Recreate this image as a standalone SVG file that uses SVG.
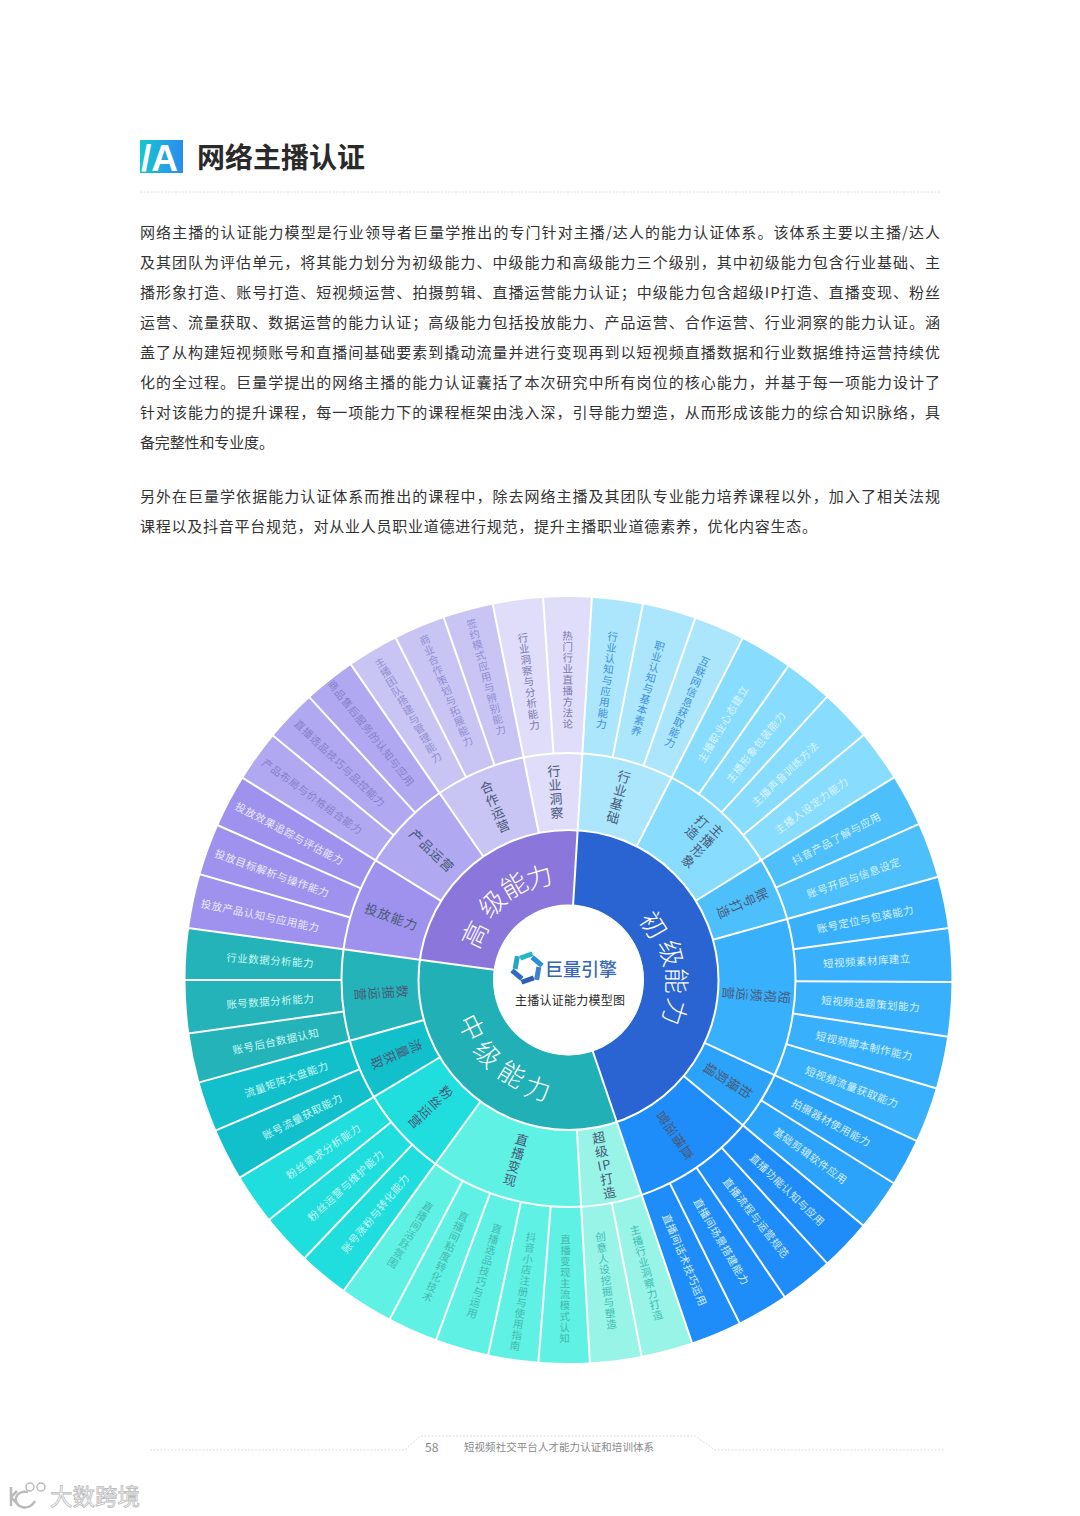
<svg xmlns="http://www.w3.org/2000/svg" width="1080" height="1516" viewBox="0 0 1080 1516">
<style>
text{font-family:"Noto Sans CJK SC","Liberation Sans",sans-serif}
.c{text-anchor:middle;dominant-baseline:central}
.v{writing-mode:vertical-rl;text-orientation:upright}
.p{font-size:15px;fill:#333;dominant-baseline:central;transform:translateY(-1.5px)}
.o,.m,.i{fill:none;transform:rotate(-90deg)}
.o{stroke-width:156}
.m{stroke-width:77}
.i{stroke-width:75}
.l{font-size:10.5px;letter-spacing:.5px}
.t{font-size:13px;letter-spacing:1px;fill:#4a5a78}
.g{font-size:26px;fill:#fff;font-weight:300}
.w{stroke:#fff;stroke-width:2;fill:none}
.b1{fill:#3f8fd8}.b2{fill:#dcf5ff}.b3{fill:#d8f0ff}.b4{fill:#d4ecff}
.b5{fill:#3fbdb4}.b6{fill:#45b9b0}.b7{fill:#c8f7f3}.b8{fill:#ece8ff}.b9{fill:#8880cc}.b10{fill:#9390d2}.b11{fill:#7c7ab0}
.f{fill:none;stroke:#dcdcdc;stroke-width:1;stroke-dasharray:2 1.5}
</style>
<defs>
<linearGradient id="lg" x1="0" y1="0" x2="1" y2="0"><stop offset="0" stop-color="#17c6cf"/><stop offset="1" stop-color="#2b8cf0"/></linearGradient>
<line id="s1" class="w" x1="0" y1="-75" x2="0" y2="-150"/>
<line id="s2" class="w" x1="0" y1="-150" x2="0" y2="-227"/>
<line id="s3" class="w" x1="0" y1="-227" x2="0" y2="-384"/>
</defs>
<rect width="1080" height="1516" fill="#fff"/>

<g id="heading">
<rect x="140" y="140" width="43" height="33" fill="url(#lg)"/>
<text x="141" y="170.500" font-size="37" font-weight="700" fill="#fff" style="font-family:'Liberation Sans',sans-serif">/A</text>
<text x="197" y="156" font-size="28" font-weight="700" fill="#2a2a2a" style="dominant-baseline:central">网络主播认证</text>
<line class="f" x1="140" y1="192" x2="940" y2="192"/>
</g>

<g id="body">
<text class="p" x="140" y="233" textLength="800">网络主播的认证能力模型是行业领导者巨量学推出的专门针对主播/达人的能力认证体系。该体系主要以主播/达人</text>
<text class="p" x="140" y="263" textLength="800">及其团队为评估单元，将其能力划分为初级能力、中级能力和高级能力三个级别，其中初级能力包含行业基础、主</text>
<text class="p" x="140" y="293" textLength="800">播形象打造、账号打造、短视频运营、拍摄剪辑、直播运营能力认证；中级能力包含超级IP打造、直播变现、粉丝</text>
<text class="p" x="140" y="323" textLength="800">运营、流量获取、数据运营的能力认证；高级能力包括投放能力、产品运营、合作运营、行业洞察的能力认证。涵</text>
<text class="p" x="140" y="353" textLength="800">盖了从构建短视频账号和直播间基础要素到撬动流量并进行变现再到以短视频直播数据和行业数据维持运营持续优</text>
<text class="p" x="140" y="383" textLength="800">化的全过程。巨量学提出的网络主播的能力认证囊括了本次研究中所有岗位的核心能力，并基于每一项能力设计了</text>
<text class="p" x="140" y="413" textLength="800">针对该能力的提升课程，每一项能力下的课程框架由浅入深，引导能力塑造，从而形成该能力的综合知识脉络，具</text>
<text class="p" x="140" y="443" textLength="134">备完整性和专业度。</text>
<text class="p" x="140" y="497" textLength="800">另外在巨量学依据能力认证体系而推出的课程中，除去网络主播及其团队专业能力培养课程以外，加入了相关法规</text>
<text class="p" x="140" y="527" textLength="677">课程以及抖音平台规范，对从业人员职业道德进行规范，提升主播职业道德素养，优化内容生态。</text>
</g>

<g id="leaves">
<g id="k0" transform="translate(568.5 980) rotate(3.5)"><circle class="o" r="305" pathLength="360" stroke="#abe6fc" stroke-dasharray="7.800 360"/><text class="c v l b1" transform="rotate(3.85) translate(0 -302)">行业认知与应用能力</text></g>
<g id="k1" transform="translate(568.5 980) rotate(11.2)"><circle class="o" r="305" pathLength="360" stroke="#abe6fc" stroke-dasharray="8.200 360"/><text class="c v l b1" transform="rotate(4.05) translate(0 -302)">职业认知与基本素养</text></g>
<g id="k2" transform="translate(568.5 980) rotate(19.3)"><circle class="o" r="305" pathLength="360" stroke="#abe6fc" stroke-dasharray="7.800 360"/><text class="c v l b1" transform="rotate(3.85) translate(0 -302)">互联网信息获取能力</text></g>
<g id="k3" transform="translate(568.5 980) rotate(27)"><circle class="o" r="305" pathLength="360" stroke="#88dcfd" stroke-dasharray="8.100 360"/><text class="c l b2" transform="rotate(4) translate(0 -299) rotate(-90)">主播职业心态建立</text></g>
<g id="k4" transform="translate(568.5 980) rotate(35)"><circle class="o" r="305" pathLength="360" stroke="#88dcfd" stroke-dasharray="7.500 360"/><text class="c l b2" transform="rotate(3.7) translate(0 -299) rotate(-90)">主播形象包装能力</text></g>
<g id="k5" transform="translate(568.5 980) rotate(42.4)"><circle class="o" r="305" pathLength="360" stroke="#88dcfd" stroke-dasharray="8 360"/><text class="c l b2" transform="rotate(3.95) translate(0 -299) rotate(-90)">主播声音训练方法</text></g>
<g id="k6" transform="translate(568.5 980) rotate(50.3)"><circle class="o" r="305" pathLength="360" stroke="#88dcfd" stroke-dasharray="7.900 360"/><text class="c l b2" transform="rotate(3.9) translate(0 -299) rotate(-90)">主播人设定力能力</text></g>
<g id="k7" transform="translate(568.5 980) rotate(58.1)"><circle class="o" r="305" pathLength="360" stroke="#4dc0fc" stroke-dasharray="8 360"/><text class="c l b3" transform="rotate(3.95) translate(0 -303) rotate(-90)">抖音产品了解与应用</text></g>
<g id="k8" transform="translate(568.5 980) rotate(66)"><circle class="o" r="305" pathLength="360" stroke="#4dc0fc" stroke-dasharray="8.500 360"/><text class="c l b3" transform="rotate(4.2) translate(0 -303) rotate(-90)">账号开启与信息设定</text></g>
<g id="k9" transform="translate(568.5 980) rotate(74.4)"><circle class="o" r="305" pathLength="360" stroke="#38b0fc" stroke-dasharray="7.900 360"/><text class="c l b3" transform="rotate(3.9) translate(0 -303) rotate(-90)">账号定位与包装能力</text></g>
<g id="k10" transform="translate(568.5 980) rotate(82.2)"><circle class="o" r="305" pathLength="360" stroke="#38b0fc" stroke-dasharray="8.200 360"/><text class="c l b3" transform="rotate(4.05) translate(0 -299) rotate(-90)">短视频素材库建立</text></g>
<g id="k11" transform="translate(568.5 980) rotate(90.3)"><circle class="o" r="305" pathLength="360" stroke="#38b0fc" stroke-dasharray="8.300 360"/><text class="c l b3" transform="rotate(4.1) translate(0 -303) rotate(-90)">短视频选题策划能力</text></g>
<g id="k12" transform="translate(568.5 980) rotate(98.5)"><circle class="o" r="305" pathLength="360" stroke="#38b0fc" stroke-dasharray="8 360"/><text class="c l b3" transform="rotate(3.95) translate(0 -303) rotate(-90)">短视频脚本制作能力</text></g>
<g id="k13" transform="translate(568.5 980) rotate(106.4)"><circle class="o" r="305" pathLength="360" stroke="#38b0fc" stroke-dasharray="8.500 360"/><text class="c l b3" transform="rotate(4.2) translate(0 -303) rotate(-90)">短视频流量获取能力</text></g>
<g id="k14" transform="translate(568.5 980) rotate(114.8)"><circle class="o" r="305" pathLength="360" stroke="#2ba3fa" stroke-dasharray="7.300 360"/><text class="c l b4" transform="rotate(3.6) translate(0 -299) rotate(-90)">拍摄器材使用能力</text></g>
<g id="k15" transform="translate(568.5 980) rotate(122)"><circle class="o" r="305" pathLength="360" stroke="#2ba3fa" stroke-dasharray="7.900 360"/><text class="c l b4" transform="rotate(3.9) translate(0 -299) rotate(-90)">基础剪辑软件应用</text></g>
<g id="k16" transform="translate(568.5 980) rotate(129.8)"><circle class="o" r="305" pathLength="360" stroke="#1e8cf9" stroke-dasharray="7.900 360"/><text class="c l b4" transform="rotate(3.9) translate(0 -303) rotate(-90)">直播功能认知与应用</text></g>
<g id="k17" transform="translate(568.5 980) rotate(137.6)"><circle class="o" r="305" pathLength="360" stroke="#1e8cf9" stroke-dasharray="8.200 360"/><text class="c l b4" transform="rotate(4.05) translate(0 -303) rotate(-90)">直播流程与运营规范</text></g>
<g id="k18" transform="translate(568.5 980) rotate(145.7)"><circle class="o" r="305" pathLength="360" stroke="#1e8cf9" stroke-dasharray="7.900 360"/><text class="c l b4" transform="rotate(3.9) translate(0 -303) rotate(-90)">直播间场景搭建能力</text></g>
<g id="k19" transform="translate(568.5 980) rotate(153.5)"><circle class="o" r="305" pathLength="360" stroke="#1e8cf9" stroke-dasharray="7.800 360"/><text class="c l b4" transform="rotate(3.85) translate(0 -303) rotate(-90)">直播间话术技巧运用</text></g>
<g id="k20" transform="translate(568.5 980) rotate(161.2)"><circle class="o" r="305" pathLength="360" stroke="#98f4e7" stroke-dasharray="7.900 360"/><text class="c v l b5" transform="rotate(3.9) translate(0 -303) rotate(180)">主播行业洞察力打造</text></g>
<g id="k21" transform="translate(568.5 980) rotate(169)"><circle class="o" r="305" pathLength="360" stroke="#98f4e7" stroke-dasharray="7.900 360"/><text class="c v l b5" transform="rotate(3.9) translate(0 -303) rotate(180)">创意人设挖掘与塑造</text></g>
<g id="k22" transform="translate(568.5 980) rotate(176.8)"><circle class="o" r="305" pathLength="360" stroke="#5ff1e4" stroke-dasharray="7.800 360"/><text class="c v l b6" transform="rotate(3.85) translate(0 -309) rotate(180)">直播变现主流模式认知</text></g>
<g id="k23" transform="translate(568.5 980) rotate(184.5)"><circle class="o" r="305" pathLength="360" stroke="#5ff1e4" stroke-dasharray="7.700 360"/><text class="c v l b6" transform="rotate(3.8) translate(0 -315) rotate(180)">抖音小店注册与使用指南</text></g>
<g id="k24" transform="translate(568.5 980) rotate(192.1)"><circle class="o" r="305" pathLength="360" stroke="#5ff1e4" stroke-dasharray="8.200 360"/><text class="c v l b6" transform="rotate(4.05) translate(0 -303) rotate(180)">直播选品技巧与运用</text></g>
<g id="k25" transform="translate(568.5 980) rotate(200.2)"><circle class="o" r="305" pathLength="360" stroke="#5ff1e4" stroke-dasharray="7.700 360"/><text class="c v l b6" transform="rotate(3.8) translate(0 -303) rotate(180)">直播间粘度转化技术</text></g>
<g id="k26" transform="translate(568.5 980) rotate(207.8)"><circle class="o" r="305" pathLength="360" stroke="#5ff1e4" stroke-dasharray="8.200 360"/><text class="c v l b6" transform="rotate(4.05) translate(0 -300) rotate(180)">直播间活跃氛围</text></g>
<g id="k27" transform="translate(568.5 980) rotate(215.9)"><circle class="o" r="305" pathLength="360" stroke="#20dedd" stroke-dasharray="7.700 360"/><text class="c l b7" transform="rotate(3.8) translate(0 -303) rotate(90)">账号涨粉与转化能力</text></g>
<g id="k28" transform="translate(568.5 980) rotate(223.5)"><circle class="o" r="305" pathLength="360" stroke="#20dedd" stroke-dasharray="7.900 360"/><text class="c l b7" transform="rotate(3.9) translate(0 -303) rotate(90)">粉丝运营与维护能力</text></g>
<g id="k29" transform="translate(568.5 980) rotate(231.3)"><circle class="o" r="305" pathLength="360" stroke="#20dedd" stroke-dasharray="7.800 360"/><text class="c l b7" transform="rotate(3.85) translate(0 -299) rotate(90)">粉丝需求分析能力</text></g>
<g id="k30" transform="translate(568.5 980) rotate(239)"><circle class="o" r="305" pathLength="360" stroke="#12c0cc" stroke-dasharray="8 360"/><text class="c l b7" transform="rotate(3.95) translate(0 -299) rotate(90)">账号流量获取能力</text></g>
<g id="k31" transform="translate(568.5 980) rotate(246.9)"><circle class="o" r="305" pathLength="360" stroke="#12c0cc" stroke-dasharray="7.700 360"/><text class="c l b7" transform="rotate(3.8) translate(0 -299) rotate(90)">流量矩阵大盘能力</text></g>
<g id="k32" transform="translate(568.5 980) rotate(254.5)"><circle class="o" r="305" pathLength="360" stroke="#23b3b9" stroke-dasharray="7.600 360"/><text class="c l b7" transform="rotate(3.75) translate(0 -299) rotate(90)">账号后台数据认知</text></g>
<g id="k33" transform="translate(568.5 980) rotate(262)"><circle class="o" r="305" pathLength="360" stroke="#23b3b9" stroke-dasharray="8.100 360"/><text class="c l b7" transform="rotate(4) translate(0 -299) rotate(90)">账号数据分析能力</text></g>
<g id="k34" transform="translate(568.5 980) rotate(270)"><circle class="o" r="305" pathLength="360" stroke="#23b3b9" stroke-dasharray="7.900 360"/><text class="c l b7" transform="rotate(3.9) translate(0 -299) rotate(90)">行业数据分析能力</text></g>
<g id="k35" transform="translate(568.5 980) rotate(277.8)"><circle class="o" r="305" pathLength="360" stroke="#9e92ee" stroke-dasharray="8.300 360"/><text class="c l b8" transform="rotate(4.1) translate(0 -315) rotate(90)">投放产品认知与应用能力</text></g>
<g id="k36" transform="translate(568.5 980) rotate(286)"><circle class="o" r="305" pathLength="360" stroke="#9e92ee" stroke-dasharray="7.900 360"/><text class="c l b8" transform="rotate(3.9) translate(0 -315) rotate(90)">投放目标解析与操作能力</text></g>
<g id="k37" transform="translate(568.5 980) rotate(293.8)"><circle class="o" r="305" pathLength="360" stroke="#9e92ee" stroke-dasharray="8.100 360"/><text class="c l b8" transform="rotate(4) translate(0 -315) rotate(90)">投放效果追踪与评估能力</text></g>
<g id="k38" transform="translate(568.5 980) rotate(301.8)"><circle class="o" r="305" pathLength="360" stroke="#b0a9f2" stroke-dasharray="7.900 360"/><text class="c l b9" transform="rotate(3.9) translate(0 -315) rotate(90)">产品布局与价格组合能力</text></g>
<g id="k39" transform="translate(568.5 980) rotate(309.6)"><circle class="o" r="305" pathLength="360" stroke="#b0a9f2" stroke-dasharray="8 360"/><text class="c l b9" transform="rotate(3.95) translate(0 -315) rotate(90)">直播选品技巧与品控能力</text></g>
<g id="k40" transform="translate(568.5 980) rotate(317.5)"><circle class="o" r="305" pathLength="360" stroke="#b0a9f2" stroke-dasharray="8 360"/><text class="c l b9" transform="rotate(3.95) translate(0 -316) rotate(90)">商品售后服务的认知与应用</text></g>
<g id="k41" transform="translate(568.5 980) rotate(325.4)"><circle class="o" r="305" pathLength="360" stroke="#c8c5f4" stroke-dasharray="7.900 360"/><text class="c v l b10" transform="rotate(3.9) translate(0 -314)">主播团队搭建与管理能力</text></g>
<g id="k42" transform="translate(568.5 980) rotate(333.2)"><circle class="o" r="305" pathLength="360" stroke="#c8c5f4" stroke-dasharray="7.900 360"/><text class="c v l b10" transform="rotate(3.9) translate(0 -314)">商业合作策划与拓展能力</text></g>
<g id="k43" transform="translate(568.5 980) rotate(341)"><circle class="o" r="305" pathLength="360" stroke="#c8c5f4" stroke-dasharray="7.700 360"/><text class="c v l b10" transform="rotate(3.8) translate(0 -314)">签约模式应用与辨别能力</text></g>
<g id="k44" transform="translate(568.5 980) rotate(348.6)"><circle class="o" r="305" pathLength="360" stroke="#dfddf9" stroke-dasharray="7.700 360"/><text class="c v l b11" transform="rotate(3.8) translate(0 -301)">行业洞察与分析能力</text></g>
<g id="k45" transform="translate(568.5 980) rotate(356.2)"><circle class="o" r="305" pathLength="360" stroke="#dfddf9" stroke-dasharray="7.400 360"/><text class="c v l b11" transform="rotate(3.65) translate(0 -300)">热门行业直播方法论</text></g>
</g>

<g id="abilities">
<g id="m0" transform="translate(568.5 980) rotate(3.5)"><circle class="m" r="188.500" pathLength="360" stroke="#abe6fc" stroke-dasharray="23.600 360"/><text class="c v t" transform="rotate(11.8) translate(0 -189)">行业基础</text></g>
<g id="m1" transform="translate(568.5 980) rotate(27)"><circle class="m" r="188.500" pathLength="360" stroke="#88dcfd" stroke-dasharray="31.200 360"/><text class="v t" transform="rotate(15.6) translate(8 -217)">主播形象</text><text class="v t" transform="rotate(15.6) translate(-9 -213)">打造</text></g>
<g id="m2" transform="translate(568.5 980) rotate(58.1)"><circle class="m" r="188.500" pathLength="360" stroke="#4dc0fc" stroke-dasharray="16.400 360"/><text class="c v t" transform="rotate(8.1) translate(0 -190)">账号打造</text></g>
<g id="m3" transform="translate(568.5 980) rotate(74.4)"><circle class="m" r="188.500" pathLength="360" stroke="#38b0fc" stroke-dasharray="40.500 360"/><text class="c v t" transform="rotate(20.2) translate(0 -188)">短视频运营</text></g>
<g id="m4" transform="translate(568.5 980) rotate(114.8)"><circle class="m" r="188.500" pathLength="360" stroke="#2ba3fa" stroke-dasharray="15.100 360"/><text class="c v t" transform="rotate(7.5) translate(0 -188)">拍摄剪辑</text></g>
<g id="m5" transform="translate(568.5 980) rotate(129.8)"><circle class="m" r="188.500" pathLength="360" stroke="#1e8cf9" stroke-dasharray="31.500 360"/><text class="c v t" transform="rotate(15.7) translate(0 -188)">直播运营</text></g>
<g id="m6" transform="translate(568.5 980) rotate(161.2)"><circle class="m" r="188.500" pathLength="360" stroke="#98f4e7" stroke-dasharray="15.700 360"/><g class="t" transform="rotate(7.8) translate(0 -188) rotate(180)"><text class="c t" y="-28">超</text><text class="c t" y="-14">级</text><text class="c t">IP</text><text class="c t" y="14">打</text><text class="c t" y="28">造</text></g></g>
<g id="m7" transform="translate(568.5 980) rotate(176.8)"><circle class="m" r="188.500" pathLength="360" stroke="#5ff1e4" stroke-dasharray="39.200 360"/><text class="c v t" transform="rotate(19.5) translate(0 -188) rotate(180)">直播变现</text></g>
<g id="m8" transform="translate(568.5 980) rotate(215.9)"><circle class="m" r="188.500" pathLength="360" stroke="#20dedd" stroke-dasharray="23.200 360"/><text class="c v t" transform="rotate(11.5) translate(0 -188) rotate(180)">粉丝运营</text></g>
<g id="m9" transform="translate(568.5 980) rotate(239)"><circle class="m" r="188.500" pathLength="360" stroke="#12c0cc" stroke-dasharray="15.600 360"/><text class="c v t" transform="rotate(7.7) translate(0 -188) rotate(180)">流量获取</text></g>
<g id="m10" transform="translate(568.5 980) rotate(254.5)"><circle class="m" r="188.500" pathLength="360" stroke="#23b3b9" stroke-dasharray="23.400 360"/><text class="c v t" transform="rotate(11.6) translate(0 -188) rotate(180)">数据运营</text></g>
<g id="m11" transform="translate(568.5 980) rotate(277.8)"><circle class="m" r="188.500" pathLength="360" stroke="#9e92ee" stroke-dasharray="24.100 360"/><text class="c t" transform="rotate(12) translate(0 -188) rotate(90)">投放能力</text></g>
<g id="m12" transform="translate(568.5 980) rotate(301.8)"><circle class="m" r="188.500" pathLength="360" stroke="#b0a9f2" stroke-dasharray="23.700 360"/><text class="c t" transform="rotate(11.8) translate(0 -188) rotate(90)">产品运营</text></g>
<g id="m13" transform="translate(568.5 980) rotate(325.4)"><circle class="m" r="188.500" pathLength="360" stroke="#c8c5f4" stroke-dasharray="23.300 360"/><text class="c v t" transform="rotate(11.6) translate(0 -188)">合作运营</text></g>
<g id="m14" transform="translate(568.5 980) rotate(348.6)"><circle class="m" r="188.500" pathLength="360" stroke="#dfddf9" stroke-dasharray="15 360"/><text class="c v t" transform="rotate(7.4) translate(0 -188)">行业洞察</text></g>
</g>

<g id="levels">
<g id="primary" transform="translate(568.500 980) rotate(3.5)"><circle class="i" r="112.500" pathLength="360" stroke="#2a63d2" stroke-dasharray="157.800 360"/></g>
<g id="intermediate" transform="translate(568.500 980) rotate(161.2)"><circle class="i" r="112.500" pathLength="360" stroke="#21b0b5" stroke-dasharray="116.700 360"/></g>
<g id="advanced" transform="translate(568.500 980) rotate(277.8)"><circle class="i" r="112.500" pathLength="360" stroke="#8b77dc" stroke-dasharray="85.800 360"/></g>
</g>

<g id="separators" transform="translate(568.500 980)">
<use href="#s3" transform="rotate(3.5)"/><use href="#s3" transform="rotate(11.2)"/><use href="#s3" transform="rotate(19.3)"/><use href="#s3" transform="rotate(27)"/><use href="#s3" transform="rotate(35)"/><use href="#s3" transform="rotate(42.4)"/><use href="#s3" transform="rotate(50.3)"/><use href="#s3" transform="rotate(58.1)"/><use href="#s3" transform="rotate(66)"/><use href="#s3" transform="rotate(74.4)"/><use href="#s3" transform="rotate(82.2)"/><use href="#s3" transform="rotate(90.3)"/><use href="#s3" transform="rotate(98.5)"/><use href="#s3" transform="rotate(106.4)"/><use href="#s3" transform="rotate(114.8)"/><use href="#s3" transform="rotate(122)"/><use href="#s3" transform="rotate(129.8)"/><use href="#s3" transform="rotate(137.6)"/><use href="#s3" transform="rotate(145.7)"/><use href="#s3" transform="rotate(153.5)"/><use href="#s3" transform="rotate(161.2)"/><use href="#s3" transform="rotate(169)"/><use href="#s3" transform="rotate(176.8)"/><use href="#s3" transform="rotate(184.5)"/><use href="#s3" transform="rotate(192.1)"/><use href="#s3" transform="rotate(200.2)"/><use href="#s3" transform="rotate(207.8)"/><use href="#s3" transform="rotate(215.9)"/><use href="#s3" transform="rotate(223.5)"/><use href="#s3" transform="rotate(231.3)"/><use href="#s3" transform="rotate(239)"/><use href="#s3" transform="rotate(246.9)"/><use href="#s3" transform="rotate(254.5)"/><use href="#s3" transform="rotate(262)"/><use href="#s3" transform="rotate(270)"/><use href="#s3" transform="rotate(277.8)"/><use href="#s3" transform="rotate(286)"/><use href="#s3" transform="rotate(293.8)"/><use href="#s3" transform="rotate(301.8)"/><use href="#s3" transform="rotate(309.6)"/><use href="#s3" transform="rotate(317.5)"/><use href="#s3" transform="rotate(325.4)"/><use href="#s3" transform="rotate(333.2)"/><use href="#s3" transform="rotate(341)"/><use href="#s3" transform="rotate(348.6)"/><use href="#s3" transform="rotate(356.2)"/>
<use href="#s2" transform="rotate(3.5)"/><use href="#s2" transform="rotate(27)"/><use href="#s2" transform="rotate(58.1)"/><use href="#s2" transform="rotate(74.4)"/><use href="#s2" transform="rotate(114.8)"/><use href="#s2" transform="rotate(129.8)"/><use href="#s2" transform="rotate(161.2)"/><use href="#s2" transform="rotate(176.8)"/><use href="#s2" transform="rotate(215.9)"/><use href="#s2" transform="rotate(239)"/><use href="#s2" transform="rotate(254.5)"/><use href="#s2" transform="rotate(277.8)"/><use href="#s2" transform="rotate(301.8)"/><use href="#s2" transform="rotate(325.4)"/><use href="#s2" transform="rotate(348.6)"/>
<use href="#s1" transform="rotate(3.5)"/><use href="#s1" transform="rotate(161.2)"/><use href="#s1" transform="rotate(277.8)"/>
<circle class="w" r="150"/><circle class="w" r="227"/>
<circle r="75.500" fill="#fff"/>
</g>

<g id="level-labels" transform="translate(568.500 980)">
<text class="c g" transform="rotate(57) translate(0 -103)">初</text>
<text class="c g" transform="rotate(75.3) translate(0 -108)">级</text>
<text class="c g" transform="rotate(90.4) translate(0 -110)">能</text>
<text class="c g" transform="rotate(106.9) translate(0 -113)">力</text>
<text class="c g" transform="rotate(243.8) translate(0 -106) rotate(180)">中</text>
<text class="c g" transform="rotate(227.6) translate(0 -108) rotate(180)">级</text>
<text class="c g" transform="rotate(211) translate(0 -108) rotate(180)">能</text>
<text class="c g" transform="rotate(196) translate(0 -111) rotate(180)">力</text>
<text class="c g" transform="rotate(296) translate(0 -106)">高</text>
<text class="c g" transform="rotate(315) translate(0 -110)">级</text>
<text class="c g" transform="rotate(330) translate(0 -111)">能</text>
<text class="c g" transform="rotate(344) translate(0 -109)">力</text>
</g>

<g id="center">
<g transform="translate(527 968)">
<rect x="-3" y="-14" width="13" height="5" fill="#25b7c4" transform="rotate(-20)"/>
<rect x="-3" y="-14" width="13" height="5" fill="#2e8fd6" transform="rotate(40)"/>
<rect x="-3" y="-14" width="13" height="5" fill="#3f7fd0" transform="rotate(100)"/>
<rect x="-3" y="-14" width="13" height="5" fill="#2f5fb2" transform="rotate(160)"/>
<rect x="-3" y="-14" width="13" height="5" fill="#2f6cc0" transform="rotate(220)"/>
<rect x="-3" y="-14" width="13" height="5" fill="#25a5c8" transform="rotate(280)"/>
</g>
<text x="545" y="968" font-size="18" font-weight="500" fill="#3568b8" textLength="72" style="dominant-baseline:central">巨量引擎</text>
<text x="515" y="999" font-size="12" fill="#2a2a2a" textLength="110" style="dominant-baseline:central">主播认证能力模型图</text>
</g>

<g id="footer">
<path class="f" d="M150 1450H405L420 1436H695L715 1450H945"/>
<text x="425" y="1446" font-size="12" fill="#8a8a8a" style="dominant-baseline:central">58</text>
<text x="464" y="1446" font-size="10.500" fill="#8a8a8a" textLength="190" style="dominant-baseline:central">短视频社交平台人才能力认证和培训体系</text>
</g>

<g id="watermark">
<path d="M11 1487V1506M28 1492C14 1490 12 1504 22 1507C28 1509 33 1505 35 1501M17 1491L11 1497L20 1507" fill="none" stroke="#bbb" stroke-width="2.500"/>
<circle cx="30" cy="1487" r="4" fill="none" stroke="#bbb" stroke-width="1.500"/>
<circle cx="41" cy="1487" r="4" fill="none" stroke="#bbb" stroke-width="1.500"/>
<text x="50" y="1495" font-size="22.500" fill="#fff" stroke="#bbb" stroke-width=".8" style="dominant-baseline:central">大数跨境</text>
</g>
</svg>
